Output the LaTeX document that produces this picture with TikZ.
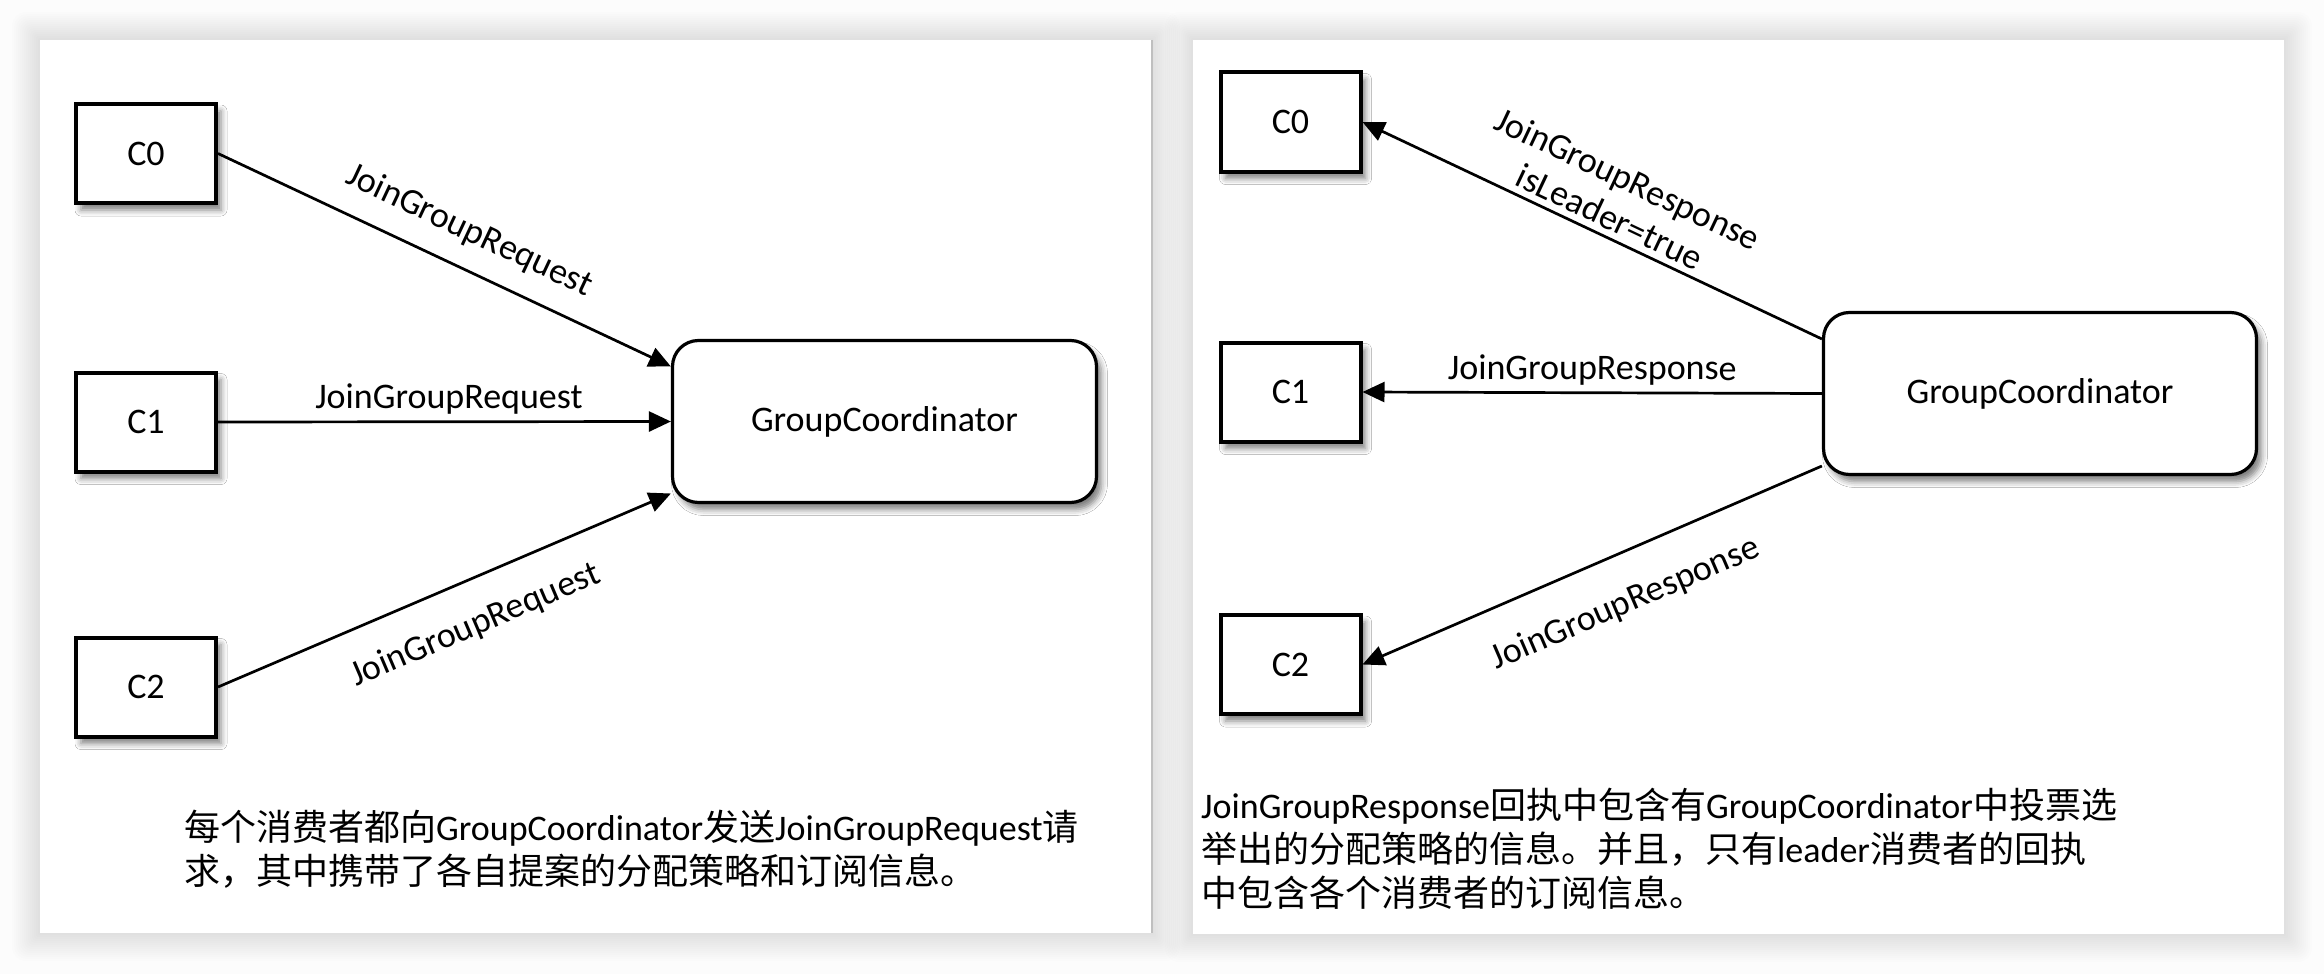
\documentclass[tikz,border=0pt]{standalone}
\usepackage{fontspec}
\setmainfont{Carlito}
\newfontfamily\cjk{Noto Sans CJK SC}
\usetikzlibrary{arrows.meta,shadows.blur}
\begin{document}
\begin{tikzpicture}[x=1pt,y=-1pt,
  every node/.style={font=\fontsize{36pt}{44pt}\selectfont},
  cbox/.style={draw, line width=4pt, fill=white, minimum width=140pt, minimum height=99pt, inner sep=0pt,
    blur shadow={shadow xshift=5pt, shadow yshift=-7pt, shadow blur radius=6pt, shadow opacity=50}},
  gbox/.style={draw, line width=3.2pt, fill=white, rounded corners=26pt, minimum height=162pt, inner sep=0pt,
    blur shadow={shadow xshift=5pt, shadow yshift=-7pt, shadow blur radius=6pt, shadow opacity=50}},
  arr/.style={line width=2.7pt, -{Triangle[length=22pt,width=20pt]}},
  rarr/.style={line width=2.7pt, {Triangle[length=22pt,width=20pt]}-},
  lab/.style={sloped},
  halo/.style={fill=black, opacity=0.009, rounded corners=#1},
  note/.style={anchor=north west, align=left, inner sep=0pt}
]
\useasboundingbox (0,0) rectangle (2324,974);
\fill[white!99!black] (0,0) rectangle (2324,974);
% soft panel shadows
\foreach \i in {1,...,14} {
  \fill[halo=\i pt] (40-2*\i,40-2*\i) rectangle (1152+2*\i,933+2*\i);
  \fill[halo=\i pt] (1193-2*\i,40-2*\i) rectangle (2284+2*\i,934+2*\i);
}
% panels
\fill[white] (40,40) rectangle (1152,933);
\fill[white] (1193,40) rectangle (2284,934);
\draw[gray!50, line width=1.5pt] (1152,40) -- (1152,933);

% left panel
\node[cbox] (lC0) at (146,153.5) {C0};
\node[cbox] (lC1) at (146,422) {C1};
\node[cbox] (lC2) at (146,687) {C2};
\node[gbox, minimum width=424pt] (lGC) at (884.5,421.5) {GroupCoordinator};
\draw[arr] (lC0.east) -- ([yshift=55pt]lGC.west)
  node[lab, above, pos=0.52, inner sep=20pt] (lL0) {JoinGroupRequest};
\draw[arr] (lC1.east) -- (lGC.west)
  node[lab, above, pos=0.51, inner sep=6pt] (lL1) {JoinGroupRequest};
\draw[arr] (lC2.east) -- ([yshift=-72pt]lGC.west)
  node[lab, below, pos=0.53, inner sep=28pt] (lL2) {JoinGroupRequest};
\node[note] (lnote) at (184,810) {{\cjk 每个消费者都向}GroupCoordinator{\cjk 发送}JoinGroupRequest{\cjk 请}\\
{\cjk 求，其中携带了各自提案的分配策略和订阅信息。}};

% right panel
\node[cbox] (rC0) at (1290.5,122) {C0};
\node[cbox] (rC1) at (1290.5,392) {C1};
\node[cbox] (rC2) at (1290.5,664.5) {C2};
\node[gbox, minimum width=433pt] (rGC) at (2040,393.5) {GroupCoordinator};
\draw[rarr] (rC0.east) -- ([yshift=54.5pt]rGC.west)
  node[lab, above, pos=0.52, inner sep=6pt, align=center, font=\fontsize{36pt}{42pt}\selectfont] (rL0) {JoinGroupResponse\\isLeader=true};
\draw[rarr] (rC1.east) -- (rGC.west)
  node[lab, above, pos=0.50, inner sep=6pt] (rL1) {JoinGroupResponse};
\draw[rarr] (rC2.east) -- ([yshift=-72.5pt]rGC.west)
  node[lab, below, pos=0.53, inner sep=32pt] (rL2) {JoinGroupResponse};
\node[note] (rnote) at (1201,788) {JoinGroupResponse{\cjk 回执中包含有}GroupCoordinator{\cjk 中投票选}\\
{\cjk 举出的分配策略的信息。并且，只有}leader{\cjk 消费者的回执}\\
{\cjk 中包含各个消费者的订阅信息。}};
\end{tikzpicture}
\end{document}
